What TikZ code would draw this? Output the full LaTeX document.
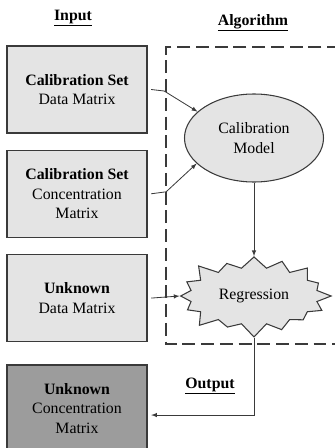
\documentclass[tikz,border=0pt]{standalone}
\usepackage{fontspec}
\setmainfont{Liberation Serif}
\usetikzlibrary{arrows,positioning,shapes.geometric,shapes.symbols}
\definecolor{lightfill}{HTML}{E4E4E4}
\definecolor{darkfill}{HTML}{9C9C9C}
\definecolor{edge}{HTML}{3A3A3A}
\tikzset{
	databox/.style={draw=edge, line width=1.1pt, fill=lightfill, minimum width=4.2cm, minimum height=2.61cm, align=center, font=\fontsize{13.5}{16.5}\selectfont},
	resultbox/.style={databox, fill=darkfill},
	heading/.style={font=\fontsize{13.5}{16.5}\selectfont\bfseries},
	stage/.style={draw=edge, line width=0.9pt, fill=lightfill, align=center, font=\fontsize{13.5}{16.5}\selectfont},
	flow/.style={-latex, line width=0.7pt, draw=edge}
}

\begin{document}
\begin{tikzpicture}[x=0.03cm, y=-0.03cm, node distance=0.48cm]
	\useasboundingbox (0,0) rectangle (334,448);
	\node[heading] (in-title) at (73,18) {\underline{Input}};
	\node[heading] (alg-title) at (253,23) {\underline{Algorithm}};
	
	\node[databox] (cal-data) at (77,89.5) {\textbf{Calibration Set}\\Data Matrix};
	\node[databox, below=of cal-data] (cal-conc) {\textbf{Calibration Set}\\Concentration\\Matrix};
	\node[databox, below=of cal-conc] (unk-data) {\textbf{Unknown}\\Data Matrix};
	\node[resultbox, below=0.66cm of unk-data] (unk-conc) {\textbf{Unknown}\\Concentration\\Matrix};
	
	% algorithm frame
	\draw[edge, line width=1.3pt, dash pattern=on 11pt off 5pt] (340,47) -- (166,47) -- (166,344) -- (340,344);
	
	\node[stage, ellipse, minimum width=4.17cm, minimum height=2.64cm] (model) at (254,138) {Calibration\\Model};
	\node[stage, starburst, starburst points=16, starburst point height=0.45cm, inner sep=0pt, minimum width=4.75cm, minimum height=2.6cm] (regr) at (254,296) {Regression};
	
	\draw[flow] ([xshift=3pt]cal-data.east) -- ++(13,1.5) -- (model.155);
	\draw[flow] ([xshift=3pt]cal-conc.east) -- ++(15,-2) -- (model.204);
	\draw[flow] ([xshift=3pt]unk-data.east) -- (regr.west);
	\draw[flow] (model.south) -- (model.south |- regr.north);
	\draw[flow] (model.south |- regr.south) |- ([xshift=3pt,yshift=-0.2cm]unk-conc.east) coordinate (out-end);
	\node[heading] (out-title) at (210,386) {\underline{Output}};
\end{tikzpicture}
\end{document}
